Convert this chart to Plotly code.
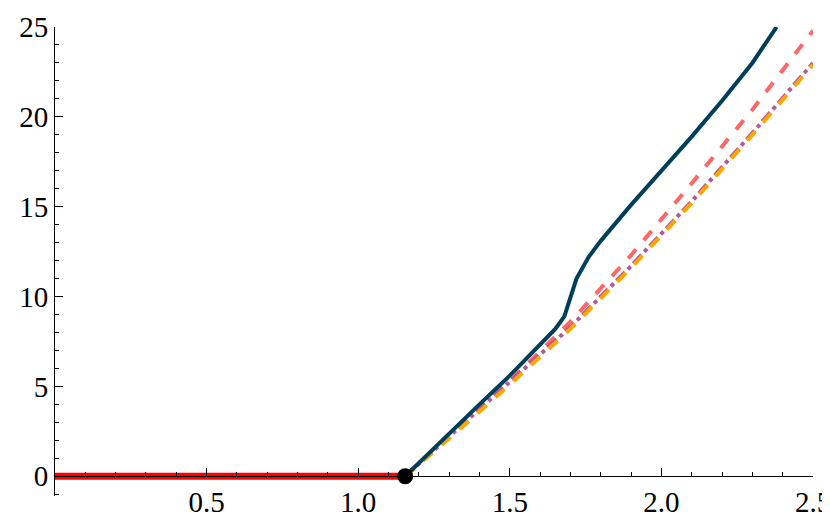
import plotly.graph_objects as go

# data
x_blue = [1.155, 1.3, 1.4, 1.5, 1.6, 1.65, 1.68, 1.72, 1.76, 1.8, 1.9, 2.0, 2.1, 2.2, 2.3, 2.38]
y_blue = [0, 2.4, 4.0, 5.6, 7.3, 8.2, 8.9, 11.0, 12.2, 13.1, 15.1, 17.0, 18.9, 20.9, 23.0, 25.0]
x_salmon = [1.155, 1.3, 1.5, 1.7, 1.9, 2.1, 2.3, 2.5]
y_salmon = [0, 2.3, 5.3, 8.6, 12.3, 16.3, 20.4, 24.8]
x_purple = [1.155, 1.3, 1.5, 1.7, 1.9, 2.1, 2.3, 2.5]
y_purple = [0, 2.2, 5.2, 8.3, 11.7, 15.3, 19.1, 23.0]
y_orange = [0, 2.1, 5.1, 8.2, 11.6, 15.2, 19.0, 22.9]
x_red = [0, 1.155]
y_red = [0, 0]
x_dot = [1.155]
y_dot = [0]

fig = go.Figure()
fig.add_trace(go.Scatter(x=x_red, y=y_red, mode="lines", line=dict(color="red", width=7)))
fig.add_trace(go.Scatter(x=x_salmon, y=y_salmon, mode="lines",
                         line=dict(color="#ff6666", width=4, dash="dash")))
fig.add_trace(go.Scatter(x=x_purple, y=y_purple, mode="lines",
                         line=dict(color="#b5589a", width=4, dash="dashdot")))
fig.add_trace(go.Scatter(x=x_purple, y=y_orange, mode="lines",
                         line=dict(color="#ffa500", width=4, dash="dash")))
fig.add_trace(go.Scatter(x=x_blue, y=y_blue, mode="lines",
                         line=dict(color="#003f5c", width=4)))
fig.add_trace(go.Scatter(x=x_dot, y=y_dot, mode="markers",
                         marker=dict(color="black", size=16), cliponaxis=False))

ymin = -1.1
ymax = 25
tick_font = dict(family="Liberation Serif", size=29, color="black")
fig.update_layout(
    width=830, height=519, showlegend=False,
    plot_bgcolor="white", paper_bgcolor="white",
    margin=dict(l=47, r=25, t=19, b=31, autoexpand=False),
    xaxis=dict(range=[0, 2.5], tickvals=[0.5, 1.0, 1.5, 2.0, 2.5],
               ticktext=["0.5", "1.0", "1.5", "2.0", "2.5"], tickfont=tick_font,
               showgrid=False, zeroline=False, showline=True, linecolor="black", linewidth=1,
               ticks="inside", ticklen=8, tickcolor="black", automargin=False,
               minor=dict(dtick=0.1, ticks="inside", ticklen=4, tickcolor="black"),
               anchor="free", position=-ymin / (ymax - ymin)),
    yaxis=dict(range=[ymin, ymax], tickvals=[0, 5, 10, 15, 20, 25], tickfont=tick_font,
               showgrid=False, zeroline=False, showline=True, linecolor="black", linewidth=1,
               ticks="inside", ticklen=8, tickcolor="black", automargin=False,
               minor=dict(dtick=1, ticks="inside", ticklen=4, tickcolor="black")),
)
fig.write_html("out.html")
